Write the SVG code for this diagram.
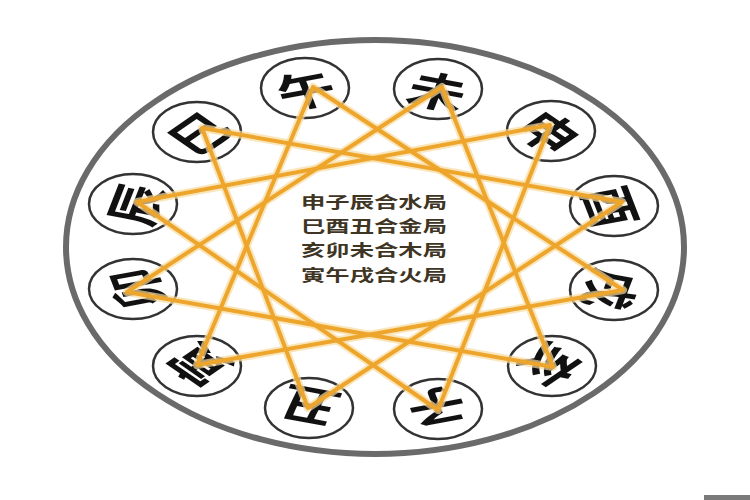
<svg xmlns="http://www.w3.org/2000/svg" width="750" height="500" viewBox="0 0 750 500">
<style>
.ring{fill:none;stroke:#6a6a6a;stroke-width:6}
.node ellipse{fill:#ffffff;stroke:#333333;stroke-width:2.5}
.node text{font-family:"Noto Sans CJK SC","Noto Sans CJK TC",sans-serif;font-weight:700;font-size:40px;fill:#111111;text-anchor:middle;dominant-baseline:central}
.glow{fill:none;stroke:#f8dca0;stroke-width:8;stroke-linejoin:round;opacity:0.7}
.line{fill:none;stroke:#eea52c;stroke-width:4;stroke-linejoin:round}
.center{font-family:"Noto Sans CJK SC",sans-serif;font-weight:700;font-size:16px;fill:#3f3524}
</style>
<rect width="750" height="500" fill="#ffffff"/>
<ellipse class="ring" cx="375" cy="247" rx="309" ry="207"/>
<g id="nodes">
<g id="n-wu" class="node"><ellipse cx="305" cy="88" rx="44" ry="30"/><text transform="translate(305,88) scale(1.45,1) rotate(-15)">午</text></g>
<g id="n-wei" class="node"><ellipse cx="438" cy="89" rx="44" ry="30"/><text transform="translate(438,89) scale(1.45,1) rotate(15)">未</text></g>
<g id="n-shen" class="node"><ellipse cx="551" cy="131" rx="44" ry="30"/><text transform="translate(551,131) scale(1.45,1) rotate(45)">申</text></g>
<g id="n-you" class="node"><ellipse cx="614" cy="206" rx="44" ry="30"/><text transform="translate(614,206) scale(1.45,1) rotate(75)">酉</text></g>
<g id="n-xu" class="node"><ellipse cx="614" cy="290" rx="44" ry="30"/><text transform="translate(614,290) scale(1.45,1) rotate(105)">戌</text></g>
<g id="n-hai" class="node"><ellipse cx="552" cy="366" rx="44" ry="30"/><text transform="translate(552,366) scale(1.45,1) rotate(135)">亥</text></g>
<g id="n-zi" class="node"><ellipse cx="438" cy="409" rx="44" ry="30"/><text transform="translate(438,409) scale(1.45,1) rotate(165)">子</text></g>
<g id="n-chou" class="node"><ellipse cx="309" cy="408" rx="44" ry="30"/><text transform="translate(309,408) scale(1.45,1) rotate(195)">丑</text></g>
<g id="n-yin" class="node"><ellipse cx="197" cy="366" rx="44" ry="30"/><text transform="translate(197,366) scale(1.45,1) rotate(225)">寅</text></g>
<g id="n-mao" class="node"><ellipse cx="133" cy="289" rx="44" ry="30"/><text transform="translate(133,289) scale(1.45,1) rotate(255)">卯</text></g>
<g id="n-chen" class="node"><ellipse cx="133" cy="204" rx="44" ry="30"/><text transform="translate(133,204) scale(1.45,1) rotate(285)">辰</text></g>
<g id="n-si" class="node"><ellipse cx="197" cy="132" rx="44" ry="30"/><text transform="translate(197,132) scale(1.45,1) rotate(315)">巳</text></g>
</g>
<g id="connectors">
<polygon class="glow" points="550,125 438,410 137,202"/>
<polygon class="glow" points="202,128 622,202 308,408"/>
<polygon class="glow" points="553,367 127,292 442,87"/>
<polygon class="glow" points="197,365 313,87 623,290"/>
<polygon class="line" points="550,125 438,410 137,202"/>
<polygon class="line" points="202,128 622,202 308,408"/>
<polygon class="line" points="553,367 127,292 442,87"/>
<polygon class="line" points="197,365 313,87 623,290"/>
</g>
<g id="legend">
<text class="center" x="301" y="208" textLength="146" lengthAdjust="spacingAndGlyphs">申子辰合水局</text>
<text class="center" x="301" y="232" textLength="146" lengthAdjust="spacingAndGlyphs">巳酉丑合金局</text>
<text class="center" x="301" y="256" textLength="146" lengthAdjust="spacingAndGlyphs">亥卯未合木局</text>
<text class="center" x="301" y="281" textLength="146" lengthAdjust="spacingAndGlyphs">寅午戌合火局</text>
</g>
<rect x="704" y="495" width="46" height="5" fill="#7a7a7a"/>
</svg>
